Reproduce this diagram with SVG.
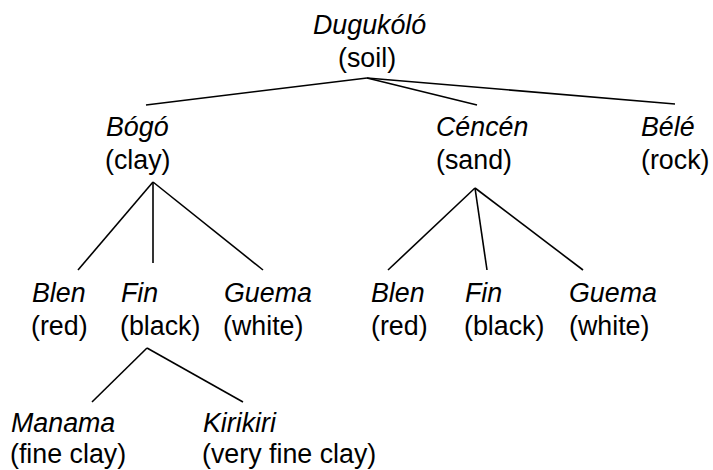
<svg xmlns="http://www.w3.org/2000/svg" width="713" height="470" viewBox="0 0 713 470">
<style>
text{font-family:"Liberation Sans",Arial,Helvetica,sans-serif;font-size:26.8px;fill:#000}
.n{font-style:italic}
#edges line{stroke:#000;stroke-width:1.6}
</style>
<rect width="713" height="470" fill="#fff"/>
<g id="edges">
<line x1="367" y1="78" x2="146" y2="105"/>
<line x1="367" y1="78" x2="477" y2="105"/>
<line x1="367" y1="78" x2="675" y2="104"/>
<line x1="153" y1="182" x2="78" y2="270"/>
<line x1="153" y1="182" x2="153" y2="263"/>
<line x1="153" y1="182" x2="263" y2="270"/>
<line x1="147" y1="348" x2="92" y2="402"/>
<line x1="147" y1="348" x2="243" y2="402"/>
<line x1="475" y1="188" x2="388" y2="270"/>
<line x1="475" y1="188" x2="487" y2="270"/>
<line x1="475" y1="188" x2="583" y2="270"/>
</g>
<g id="soil"><text class="n" x="313" y="34">Dugukóló</text><text x="338" y="67">(soil)</text></g>
<g id="clay"><text class="n" x="106" y="136">Bógó</text><text x="105" y="169">(clay)</text></g>
<g id="sand"><text class="n" x="436" y="136">Céncén</text><text x="436" y="169">(sand)</text></g>
<g id="rock"><text class="n" x="641" y="136">Bélé</text><text x="641" y="169">(rock)</text></g>
<g id="clay-red"><text class="n" x="32" y="302">Blen</text><text x="31" y="335">(red)</text></g>
<g id="clay-black"><text class="n" x="121" y="302">Fin</text><text x="120" y="335">(black)</text></g>
<g id="clay-white"><text class="n" x="224" y="302">Guema</text><text x="223" y="335">(white)</text></g>
<g id="sand-red"><text class="n" x="371" y="302">Blen</text><text x="371" y="335">(red)</text></g>
<g id="sand-black"><text class="n" x="465" y="302">Fin</text><text x="464" y="335">(black)</text></g>
<g id="sand-white"><text class="n" x="569" y="302">Guema</text><text x="569" y="335">(white)</text></g>
<g id="manama"><text class="n" x="11" y="432">Manama</text><text x="10" y="463">(fine clay)</text></g>
<g id="kirikiri"><text class="n" x="203" y="432">Kirikiri</text><text x="202" y="463">(very fine clay)</text></g>
</svg>
